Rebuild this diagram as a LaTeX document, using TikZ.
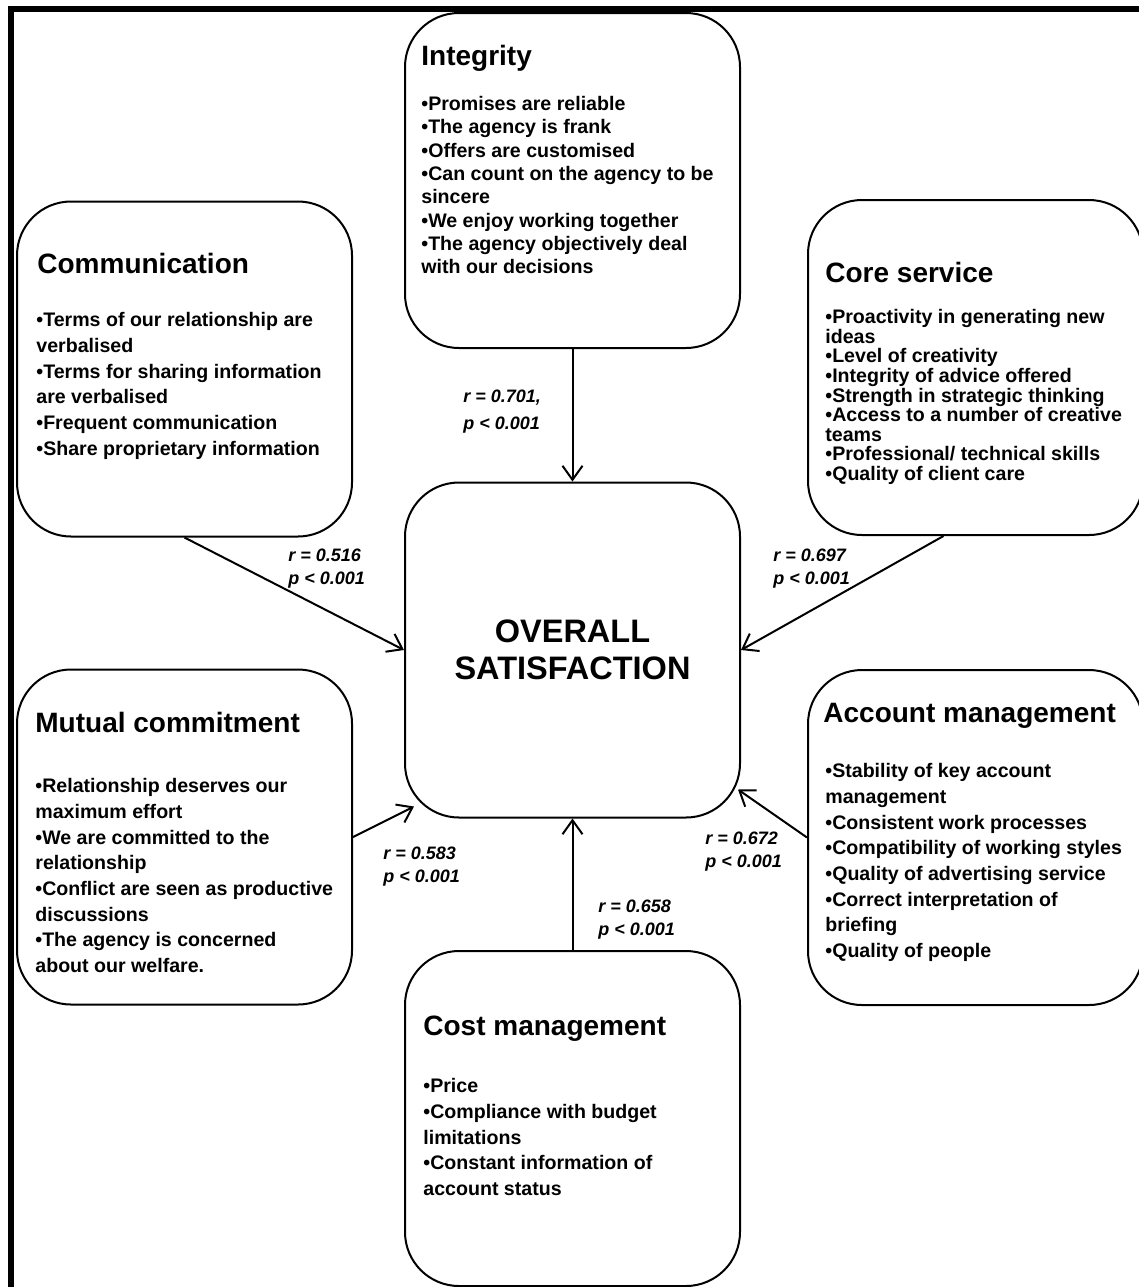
\documentclass[tikz,border=0pt]{standalone}
\usepackage{fontspec}
\setmainfont{Liberation Sans}
\usetikzlibrary{arrows.meta}

\tikzset{
  box/.style={draw, line width=1pt, rounded corners=27pt,
    minimum width=167.5pt, minimum height=167.5pt, inner sep=0pt},
  heading/.style={font=\fontsize{14}{16.8}\selectfont\bfseries,
    inner sep=0pt, anchor=base west},
  items/.style={font=\fontsize{9.8}{12.85}\selectfont\bfseries,
    align=left, inner sep=0pt, anchor=north west},
  corr/.style={font=\fontsize{9}{11.25}\selectfont\bfseries\itshape,
    align=left, inner sep=0pt, anchor=north west},
  arr/.style={line width=1pt, -{Straight Barb[length=7pt, width=10pt]}},
}

\begin{document}
\begin{tikzpicture}[x=0.5pt, y=-0.5pt]
  \useasboundingbox (0,0) rectangle (1139,1287);

  % frame
  \draw[line width=3pt] (11,1287) -- (11,9) -- (1139,9);

  % boxes
  \node[box] (integrity) at (572.5,180.5) {};
  \node[box] (communication) at (184.5,369) {};
  \node[box] (core) at (975.5,367.5) {};
  \node[box, font=\fontsize{16.25}{18.5}\selectfont\bfseries, align=center]
    (overall) at (572.5,650) {OVERALL\\SATISFACTION};
  \node[box] (mutual) at (184.5,837) {};
  \node[box] (account) at (975.5,837.5) {};
  \node[box] (cost) at (572.5,1118.5) {};

  % headings
  \node[heading] (integrity-head) at (421,65) {Integrity};
  \node[heading] (communication-head) at (37,273) {Communication};
  \node[heading] (core-head) at (825,282) {Core service};
  \node[heading] (mutual-head) at (35,732) {Mutual commitment};
  \node[heading] (account-head) at (823,722) {Account management};
  \node[heading] (cost-head) at (423,1035) {Cost management};

  % items
  \node[items, font=\fontsize{9.8}{11.65}\selectfont\bfseries]
    (integrity-items) at (421,96) {%
    •Promises are reliable\\
    •The agency is frank\\
    •Offers are customised\\
    •Can count on the agency to be\\
    sincere\\
    •We enjoy working together\\
    •The agency objectively deal\\
    with our decisions};
  \node[items] (communication-items) at (36,312) {%
    •Terms of our relationship are\\
    verbalised\\
    •Terms for sharing information\\
    are verbalised\\
    •Frequent communication\\
    •Share proprietary information};
  \node[items, font=\fontsize{9.8}{9.8}\selectfont\bfseries]
    (core-items) at (825,309) {%
    •Proactivity in generating new\\
    ideas\\
    •Level of creativity\\
    •Integrity of advice offered\\
    •Strength in strategic thinking\\
    •Access to a number of creative\\
    teams\\
    •Professional/ technical skills\\
    •Quality of client care};
  \node[items] (mutual-items) at (35,778) {%
    •Relationship deserves our\\
    maximum effort\\
    •We are committed to the\\
    relationship\\
    •Conflict are seen as productive\\
    discussions\\
    •The agency is concerned\\
    about our welfare.};
  \node[items] (account-items) at (825,763) {%
    •Stability of key account\\
    management\\
    •Consistent work processes\\
    •Compatibility of working styles\\
    •Quality of advertising service\\
    •Correct interpretation of\\
    briefing\\
    •Quality of people};
  \node[items] (cost-items) at (423,1078) {%
    •Price\\
    •Compliance with budget\\
    limitations\\
    •Constant information of\\
    account status};

  % connectors
  \draw[arr] (integrity) -- (overall);
  \draw[arr] (communication.south) -- (overall.west);
  \draw[arr] ([xshift=-16pt]core.south) -- (overall.east);
  \draw[arr] (mutual.east) -- ([xshift=5pt, yshift=6pt]overall.south west);
  \draw[arr] (account.west) -- ([xshift=-1.5pt, yshift=14.5pt]overall.south east);
  \draw[arr] (cost) -- (overall);

  % correlations
  \node[corr] (integrity-r) at (463,390) {r = 0.701,\\[2.25pt]p < 0.001};
  \node[corr] (communication-r) at (288,549) {r = 0.516\\p < 0.001};
  \node[corr] (core-r) at (773,549) {r = 0.697\\p < 0.001};
  \node[corr] (mutual-r) at (383,847) {r = 0.583\\p < 0.001};
  \node[corr] (account-r) at (705,832) {r = 0.672\\p < 0.001};
  \node[corr] (cost-r) at (598,900) {r = 0.658\\p < 0.001};
\end{tikzpicture}
\end{document}
